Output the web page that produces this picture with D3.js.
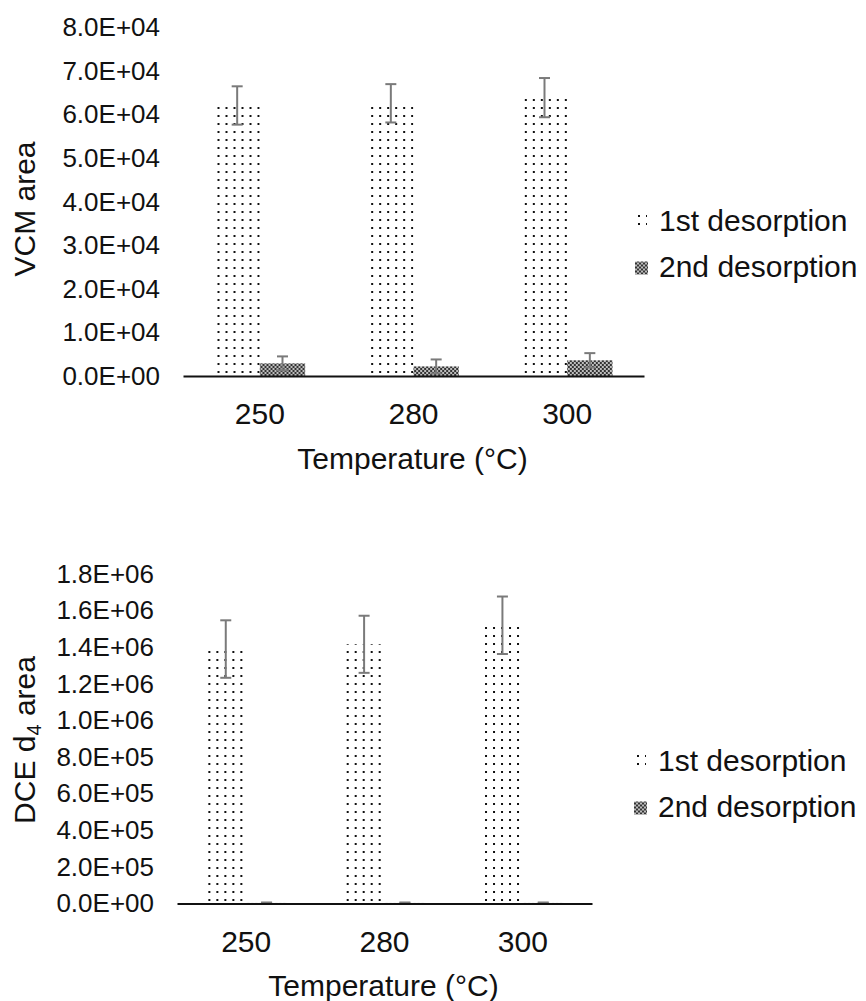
<!DOCTYPE html>
<html>
<head>
<meta charset="utf-8">
<script src="https://cdn.jsdelivr.net/npm/d3@7"></script>
<style>
  body { margin: 0; background: #fff; }
  svg { display: block; }
  text { font-family: "Liberation Sans", Arial, sans-serif; fill: #111; }
</style>
</head>
<body>
<svg width="866" height="1001"></svg>
<script>
const temps = ["250", "280", "300"];
const seriesNames = ["1st desorption", "2nd desorption"];

// VCM area (top panel)
const vcmFirst = [62100, 62600, 63900];
const vcmFirstSd = [4400, 4400, 4500];
const vcmSecond = [2900, 2200, 3600];
const vcmSecondSd = [1600, 1600, 1650];
const vcmTicks = [0, 10000, 20000, 30000, 40000, 50000, 60000, 70000, 80000];

// DCE d4 area (bottom panel)
const dceFirst = [1390000, 1416000, 1520000];
const dceFirstSd = [157000, 156000, 157000];
const dceSecond = [3000, 3000, 3000];
const dceSecondSd = [2500, 2500, 2500];
const dceTicks = [0, 200000, 400000, 600000, 800000, 1000000, 1200000, 1400000, 1600000, 1800000];

const svg = d3.select("svg");
const defs = svg.append("defs");

// sparse dots for 1st desorption
const dots = defs.append("pattern")
  .attr("id", "dots")
  .attr("patternUnits", "userSpaceOnUse")
  .attr("width", 8).attr("height", 8);
dots.append("rect").attr("x", 3).attr("y", 3).attr("width", 2).attr("height", 2).attr("fill", "#111");

// dense checker for 2nd desorption
const checker = defs.append("pattern")
  .attr("id", "checker")
  .attr("patternUnits", "userSpaceOnUse")
  .attr("width", 4).attr("height", 4);
checker.append("rect").attr("width", 4).attr("height", 4).attr("fill", "#bdbdbd");
checker.append("rect").attr("width", 2).attr("height", 2).attr("fill", "#333");
checker.append("rect").attr("x", 2).attr("y", 2).attr("width", 2).attr("height", 2).attr("fill", "#333");

const fills = ["url(#dots)", "url(#checker)"];

function sci(v) {
  const [m, e] = v.toExponential(1).split("e");
  const n = Math.abs(+e);
  return m.toUpperCase() + "E" + (+e < 0 ? "-" : "+") + String(n).padStart(2, "0");
}

const charts = [
  {
    first: vcmFirst, firstSd: vcmFirstSd, second: vcmSecond, secondSd: vcmSecondSd,
    ticks: vcmTicks, max: 80000,
    left: 183, right: 644, bottom: 376, top: 27.5,
    title: ["VCM area"], titleY: 209,
    legendX: 635, legendY: 220
  },
  {
    first: dceFirst, firstSd: dceFirstSd, second: dceSecond, secondSd: dceSecondSd,
    ticks: dceTicks, max: 1800000,
    left: 177, right: 592, bottom: 903.5, top: 574,
    title: ["DCE d", "4", " area"], titleY: 740,
    legendX: 634, legendY: 760
  }
];

charts.forEach(c => {
  const g = svg.append("g");

  const x0 = d3.scaleBand().domain(temps).range([c.left, c.right]).paddingInner(0.41).paddingOuter(0.205);
  const x1 = d3.scaleBand().domain(seriesNames).range([0, x0.bandwidth()]);
  const y = d3.scaleLinear().domain([0, c.max]).range([c.bottom, c.top]);

  const rows = temps.map((t, i) => ({
    t,
    vals: [
      { s: seriesNames[0], v: c.first[i], sd: c.firstSd[i] },
      { s: seriesNames[1], v: c.second[i], sd: c.secondSd[i] }
    ]
  }));

  // y axis (labels only)
  const ya = g.append("g")
    .attr("transform", `translate(${c.left},0)`)
    .call(d3.axisLeft(y).tickValues(c.ticks).tickFormat(sci).tickSize(0).tickPadding(23));
  ya.select(".domain").remove();
  ya.selectAll("text").attr("font-size", 26).attr("font-family", null).style("fill", "#111");

  // bars
  const grp = g.selectAll(".grp").data(rows).join("g")
    .attr("transform", d => `translate(${x0(d.t)},0)`);
  grp.selectAll("rect").data(d => d.vals).join("rect")
    .attr("x", d => x1(d.s))
    .attr("width", x1.bandwidth())
    .attr("y", d => y(d.v))
    .attr("height", d => y(0) - y(d.v))
    .attr("fill", (d, i) => fills[i]);

  // error bars
  const eb = grp.selectAll(".eb").data(d => d.vals).join("g")
    .attr("stroke", "#7a7a7a").attr("stroke-width", 2);
  eb.append("line")
    .attr("x1", d => x1(d.s) + x1.bandwidth() / 2)
    .attr("x2", d => x1(d.s) + x1.bandwidth() / 2)
    .attr("y1", d => y(Math.max(0, d.v - d.sd)))
    .attr("y2", d => y(d.v + d.sd));
  [-1, 1].forEach(k => {
    eb.append("line")
      .attr("x1", d => x1(d.s) + x1.bandwidth() / 2 - 5.5)
      .attr("x2", d => x1(d.s) + x1.bandwidth() / 2 + 5.5)
      .attr("y1", d => y(Math.max(0, d.v + k * d.sd)))
      .attr("y2", d => y(Math.max(0, d.v + k * d.sd)));
  });

  // x axis
  const xa = g.append("g")
    .attr("transform", `translate(0,${c.bottom})`)
    .call(d3.axisBottom(x0).tickSize(0).tickSizeOuter(0));
  xa.select(".domain").attr("stroke", "#111").attr("stroke-width", 2);
  xa.selectAll("text")
    .attr("font-size", 30).attr("font-family", null).style("fill", "#111")
    .attr("dy", null).attr("y", 37.5).attr("dominant-baseline", "central");

  g.append("text")
    .attr("x", (c.left + c.right) / 2 - 1)
    .attr("y", c.bottom + 82)
    .attr("text-anchor", "middle")
    .attr("dominant-baseline", "central")
    .attr("font-size", 30)
    .text("Temperature (°C)");

  // y title
  const yt = g.append("text")
    .attr("transform", `translate(35,${c.titleY}) rotate(-90)`)
    .attr("text-anchor", "middle")
    .attr("font-size", 30);
  yt.append("tspan").text(c.title[0]);
  if (c.title.length > 1) {
    yt.append("tspan").attr("font-size", 20).attr("dy", 6).text(c.title[1]);
    yt.append("tspan").attr("dy", -6).text(c.title[2]);
  }

  // legend
  const lg = g.selectAll(".lg").data(seriesNames).join("g")
    .attr("transform", (d, i) => `translate(${c.legendX},${c.legendY + i * 46.5})`);
  lg.append("rect")
    .attr("x", 0).attr("y", (d, i) => i === 0 ? -7 : -5)
    .attr("width", (d, i) => i === 0 ? 12 : 13)
    .attr("height", (d, i) => i === 0 ? 12 : 13)
    .attr("fill", (d, i) => fills[i]);
  lg.append("text")
    .attr("x", 24)
    .attr("dominant-baseline", "central")
    .attr("font-size", 30)
    .text(d => d);
});
</script>
</body>
</html>
